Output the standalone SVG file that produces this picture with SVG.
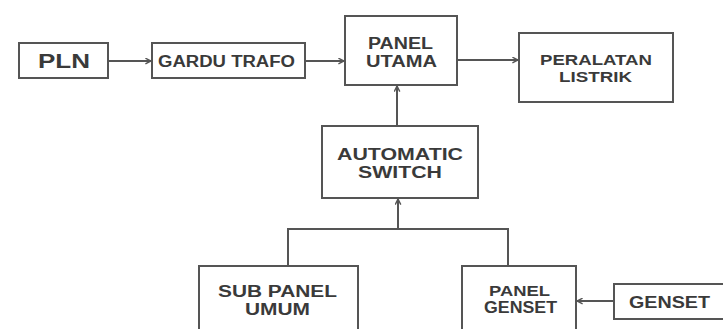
<svg xmlns="http://www.w3.org/2000/svg" width="723" height="329" viewBox="0 0 723 329">
<defs>
<style>
.box{fill:#fff;stroke:#555;stroke-width:2}
.t{font-family:"Liberation Sans",Arial,sans-serif;font-weight:bold;fill:#3a3a3a;font-size:16px}
.c{fill:none;stroke:#555;stroke-width:2}
</style>
<marker id="ah" viewBox="0 0 10 10" refX="9" refY="5" markerWidth="7" markerHeight="7" markerUnits="userSpaceOnUse" orient="auto">
<path d="M1,1 L9,5 L1,9" fill="none" stroke="#555" stroke-width="2"/>
</marker>
</defs>
<rect width="723" height="329" fill="#fff"/>
<g id="connectors">
<line class="c" x1="108" y1="61" x2="151" y2="61" marker-end="url(#ah)"/>
<line class="c" x1="305" y1="61" x2="344" y2="61" marker-end="url(#ah)"/>
<line class="c" x1="457" y1="60" x2="518" y2="60" marker-end="url(#ah)"/>
<line class="c" x1="397" y1="126" x2="397" y2="86" marker-end="url(#ah)"/>
<polyline class="c" points="288,266 288,229 508,229 508,266"/>
<line class="c" x1="398" y1="229" x2="398" y2="199" marker-end="url(#ah)"/>
<line class="c" x1="614" y1="301" x2="577" y2="301" marker-end="url(#ah)"/>
</g>
<g id="pln">
<rect class="box" x="19" y="43" width="89" height="35"/>
<text class="t" x="38" y="68" textLength="52" lengthAdjust="spacingAndGlyphs" style="font-size:21px">PLN</text>
</g>
<g id="gardu-trafo">
<rect class="box" x="152" y="43" width="153" height="35"/>
<text class="t" x="158" y="67" textLength="137" lengthAdjust="spacingAndGlyphs">GARDU TRAFO</text>
</g>
<g id="panel-utama">
<rect class="box" x="345" y="16" width="112" height="69"/>
<text class="t" x="368" y="49" textLength="65" lengthAdjust="spacingAndGlyphs">PANEL</text>
<text class="t" x="366" y="67" textLength="71" lengthAdjust="spacingAndGlyphs">UTAMA</text>
</g>
<g id="peralatan-listrik">
<rect class="box" x="519" y="33" width="154" height="69"/>
<text class="t" x="540" y="65" textLength="112" lengthAdjust="spacingAndGlyphs" style="font-size:15px">PERALATAN</text>
<text class="t" x="559" y="82" textLength="73" lengthAdjust="spacingAndGlyphs" style="font-size:15px">LISTRIK</text>
</g>
<g id="automatic-switch">
<rect class="box" x="322" y="126" width="156" height="72"/>
<text class="t" x="337" y="160" textLength="126" lengthAdjust="spacingAndGlyphs">AUTOMATIC</text>
<text class="t" x="358" y="178" textLength="84" lengthAdjust="spacingAndGlyphs">SWITCH</text>
</g>
<g id="sub-panel-umum">
<rect class="box" x="199" y="266" width="159" height="70"/>
<text class="t" x="218" y="297" textLength="119" lengthAdjust="spacingAndGlyphs">SUB PANEL</text>
<text class="t" x="245" y="315" textLength="65" lengthAdjust="spacingAndGlyphs">UMUM</text>
</g>
<g id="panel-genset">
<rect class="box" x="462" y="266" width="114" height="70"/>
<text class="t" x="489" y="296" textLength="61" lengthAdjust="spacingAndGlyphs" style="font-size:14px">PANEL</text>
<text class="t" x="484" y="313" textLength="73" lengthAdjust="spacingAndGlyphs">GENSET</text>
</g>
<g id="genset">
<rect class="box" x="614" y="284" width="115" height="35"/>
<text class="t" x="629" y="308" textLength="81" lengthAdjust="spacingAndGlyphs">GENSET</text>
</g>
</svg>
